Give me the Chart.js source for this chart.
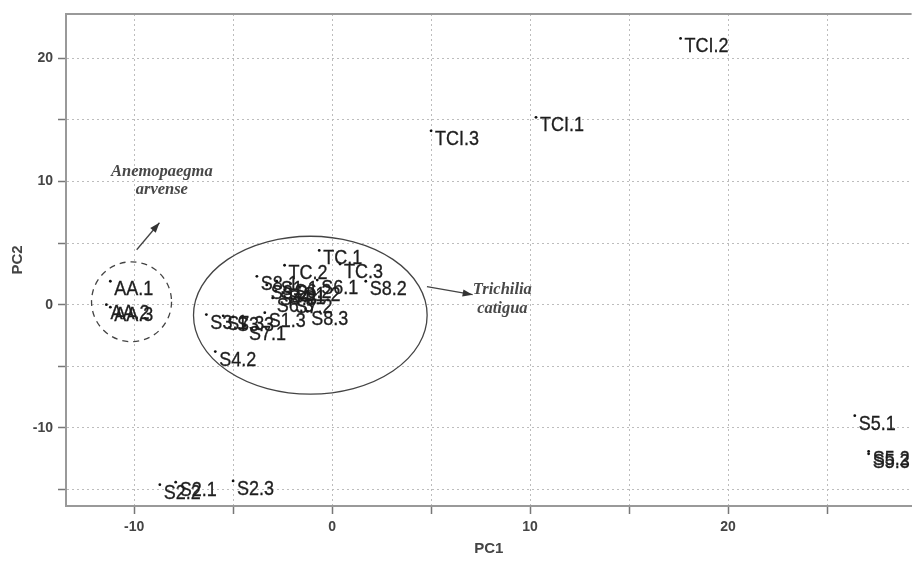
<!DOCTYPE html>
<html>
<head>
<meta charset="utf-8">
<script src="https://cdn.jsdelivr.net/npm/chart.js@4/dist/chart.umd.min.js"></script>
<style>
  html, body { margin: 0; padding: 0; background: #fff; }
</style>
</head>
<body>
<canvas id="pca" width="913" height="561"></canvas>
<script>
// PCA scores: sample names with their PC1 / PC2 coordinates
const sampleNames = [
  'TCI.1', 'TCI.2', 'TCI.3',
  'AA.1', 'AA.2', 'AA.3',
  'S2.1', 'S2.2', 'S2.3',
  'S5.1', 'S5.2', 'S5.3',
  'TC.1', 'TC.2', 'TC.3',
  'S8.2', 'S4.2', 'S7.1', 'S1.3', 'S8.3',
  'S3.1', 'S7.3', 'S3.3',
  'S8.1', 'S3.2', 'S1.1', 'S4.1', 'S6.2', 'S1.2', 'S6.1', 'S6.3', 'S7.2', 'S4.3'
];
const pc1 = [
  10.3, 17.6, 5.0,
  -11.2, -11.4, -11.2,
  -7.9, -8.7, -5.0,
  26.4, 27.1, 27.1,
  -0.65, -2.4, 0.4,
  1.7, -5.9, -4.4, -3.4, -1.25,
  -6.35, -5.5, -5.0,
  -3.8, -3.3, -2.8, -2.4, -2.1, -1.65, -0.75, -3.0, -2.05, -2.85
];
const pc2 = [
  15.2, 21.6, 14.1,
  1.9, 0.0, -0.2,
  -14.4, -14.6, -14.3,
  -9.0, -11.9, -12.1,
  4.4, 3.2, 3.3,
  1.9, -3.8, -1.7, -0.65, -0.55,
  -0.8, -0.9, -1.0,
  2.3, 1.6, 1.9, 1.2, 1.7, 1.45, 2.0, 0.55, 0.5, 1.1
];

// Axis ranges and labelled ticks
const pc1Range = [-13.44, 29.27];
const pc2Range = [-16.33, 23.58];
const pc1Labelled = [-10, 0, 10, 20];
const pc2Labelled = [-10, 0, 10, 20];

// Group outlines (centre and radii in PC units)
const aaOutline = { cx: -10.13, cy: 0.24, rx: 2.02, ry: 3.24 };
const tcOutline = { cx: -1.1, cy: -0.85, rx: 5.9, ry: 6.4 };

// Species captions and their pointers
const aaCaption = ['Anemopaegma', 'arvense'];
const aaCaptionAt = [[-8.6, 10.75], [-8.6, 9.3]];
const aaPointer = [[-9.87, 4.46], [-8.72, 6.65]];
const tcCaption = ['Trichilia', 'catigua'];
const tcCaptionAt = [[8.6, 1.2], [8.6, -0.35]];
const tcPointer = [[4.79, 1.46], [7.1, 0.81]];

function drawArrow(ctx, x1, y1, x2, y2) {
  ctx.beginPath();
  ctx.moveTo(x1, y1);
  ctx.lineTo(x2, y2);
  ctx.stroke();
  const ang = Math.atan2(y2 - y1, x2 - x1);
  const len = 10, half = 3.6;
  ctx.beginPath();
  ctx.moveTo(x2, y2);
  ctx.lineTo(x2 - len * Math.cos(ang) + half * Math.sin(ang), y2 - len * Math.sin(ang) - half * Math.cos(ang));
  ctx.lineTo(x2 - len * Math.cos(ang) - half * Math.sin(ang), y2 - len * Math.sin(ang) + half * Math.cos(ang));
  ctx.closePath();
  ctx.fill();
}

const overlay = {
  id: 'overlay',
  afterDatasetsDraw(chart) {
    const { ctx, chartArea: a, scales: { x, y } } = chart;
    ctx.save();

    // upper frame line
    ctx.strokeStyle = '#999';
    ctx.lineWidth = 2;
    ctx.beginPath();
    ctx.moveTo(a.left - 1, a.top);
    ctx.lineTo(a.right, a.top);
    ctx.stroke();

    // sample labels
    ctx.fillStyle = '#1e1e1e';
    ctx.strokeStyle = '#1e1e1e';
    ctx.lineWidth = 0.3;
    ctx.font = '18px "Liberation Sans", Arial, sans-serif';
    ctx.textBaseline = 'alphabetic';
    ctx.textAlign = 'left';
    sampleNames.forEach((n, i) => {
      const px = x.getPixelForValue(pc1[i]);
      const py = y.getPixelForValue(pc2[i]);
      ctx.save();
      ctx.translate(px + 4, py + 14);
      ctx.scale(1, 1.1);
      ctx.fillText(n, 0, 0);
      ctx.strokeText(n, 0, 0);
      ctx.restore();
    });

    // group outlines
    const ellipse = (o, dash) => {
      const cx = x.getPixelForValue(o.cx), cy = y.getPixelForValue(o.cy);
      const rx = Math.abs(x.getPixelForValue(o.cx + o.rx) - cx);
      const ry = Math.abs(y.getPixelForValue(o.cy + o.ry) - cy);
      ctx.setLineDash(dash);
      ctx.beginPath();
      ctx.ellipse(cx, cy, rx, ry, 0, 0, Math.PI * 2);
      ctx.stroke();
      ctx.setLineDash([]);
    };
    ctx.strokeStyle = '#444';
    ctx.lineWidth = 1.3;
    ellipse(aaOutline, [6, 5]);
    ellipse(tcOutline, []);

    // pointers
    ctx.fillStyle = '#333';
    ctx.lineWidth = 1.3;
    [aaPointer, tcPointer].forEach(p => {
      drawArrow(ctx,
        x.getPixelForValue(p[0][0]), y.getPixelForValue(p[0][1]),
        x.getPixelForValue(p[1][0]), y.getPixelForValue(p[1][1]));
    });

    // species captions
    ctx.fillStyle = '#484848';
    ctx.font = 'italic bold 16.5px "Liberation Serif", "Times New Roman", serif';
    ctx.textAlign = 'center';
    ctx.textBaseline = 'middle';
    const caption = (lines, at) => lines.forEach((t, i) => {
      ctx.fillText(t, x.getPixelForValue(at[i][0]), y.getPixelForValue(at[i][1]));
    });
    caption(aaCaption, aaCaptionAt);
    caption(tcCaption, tcCaptionAt);

    ctx.restore();
  }
};

const tickFont = { family: '"Liberation Sans", Arial, sans-serif', size: 14, weight: 'bold' };
const titleFont = { family: '"Liberation Sans", Arial, sans-serif', size: 15, weight: 'bold' };

new Chart(document.getElementById('pca'), {
  type: 'scatter',
  data: {
    datasets: [{
      data: pc1.map((v, i) => ({ x: v, y: pc2[i] })),
      pointRadius: 1.4,
      pointHoverRadius: 1.4,
      pointBorderWidth: 0,
      backgroundColor: '#111',
      borderColor: '#111'
    }]
  },
  options: {
    responsive: false,
    animation: false,
    devicePixelRatio: 1,
    layout: { padding: { top: 14, right: 0, bottom: 0, left: 0 } },
    plugins: { legend: { display: false }, tooltip: { enabled: false } },
    scales: {
      x: {
        type: 'linear',
        position: 'bottom',
        min: pc1Range[0],
        max: pc1Range[1],
        afterFit: s => { s.height = 55; },
        ticks: {
          stepSize: 5,
          includeBounds: false,
          autoSkip: false,
          maxRotation: 0,
          padding: 5,
          color: '#444',
          font: tickFont,
          callback: v => pc1Labelled.includes(v) ? String(v) : ''
        },
        grid: {
          color: '#bdbdbd',
          lineWidth: 1,
          tickLength: 8,
          tickColor: '#777',
          tickWidth: 1.5
        },
        border: { display: true, color: '#999', width: 2, dash: [2, 3] },
        title: { display: true, text: 'PC1', color: '#444', font: titleFont, padding: { top: 0, bottom: 3 } }
      },
      y: {
        type: 'linear',
        position: 'left',
        min: pc2Range[0],
        max: pc2Range[1],
        afterFit: s => { s.width = 66; },
        ticks: {
          stepSize: 5,
          includeBounds: false,
          autoSkip: false,
          padding: 5,
          color: '#444',
          font: tickFont,
          callback: v => pc2Labelled.includes(v) ? String(v) : ''
        },
        grid: {
          color: '#bdbdbd',
          lineWidth: 1,
          tickLength: 8,
          tickColor: '#777',
          tickWidth: 1.5
        },
        border: { display: true, color: '#999', width: 2, dash: [2, 3] },
        title: { display: true, text: 'PC2', color: '#444', font: titleFont, padding: { top: 9, bottom: 0 } }
      }
    }
  },
  plugins: [overlay]
});
</script>
</body>
</html>
